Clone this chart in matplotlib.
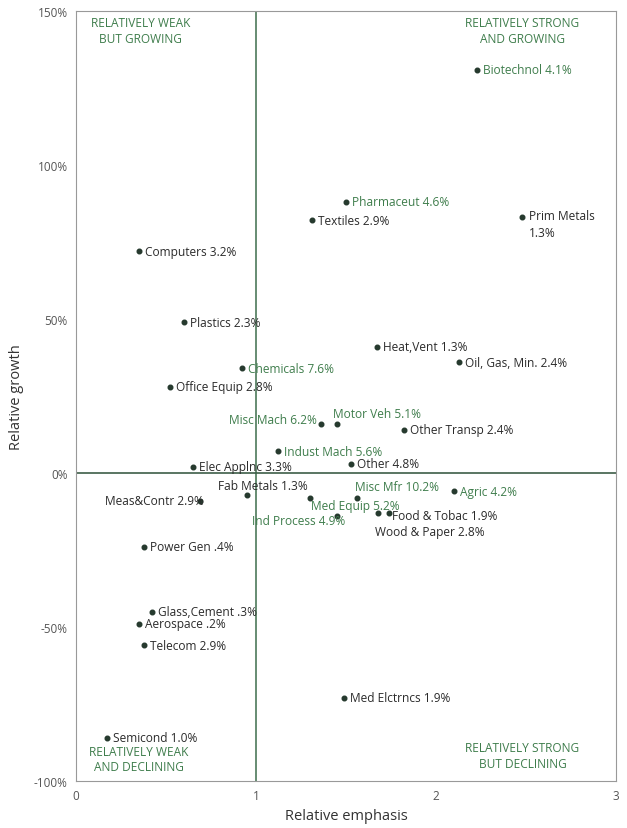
import matplotlib
matplotlib.use('Agg')
import matplotlib.pyplot as plt
from matplotlib.ticker import FuncFormatter

plt.rcParams['font.family'] = ['Open Sans', 'DejaVu Sans']

# industries: relative emphasis (x), relative growth in % (y), label
labels = ['Biotechnol 4.1%', 'Pharmaceut 4.6%', 'Textiles 2.9%', 'Prim Metals\n1.3%',
          'Computers 3.2%', 'Plastics 2.3%', 'Heat,Vent 1.3%', 'Oil, Gas, Min. 2.4%',
          'Chemicals 7.6%', 'Office Equip 2.8%', 'Misc Mach 6.2%', 'Motor Veh 5.1%',
          'Other Transp 2.4%', 'Indust Mach 5.6%', 'Elec Applnc 3.3%', 'Other 4.8%',
          'Fab Metals 1.3%', 'Meas&Contr 2.9%', 'Med Equip 5.2%', 'Misc Mfr 10.2%',
          'Ind Process 4.9%', 'Agric 4.2%', 'Wood & Paper 2.8%', 'Food & Tobac 1.9%',
          'Power Gen .4%', 'Glass,Cement .3%', 'Aerospace .2%', 'Telecom 2.9%',
          'Semicond 1.0%', 'Med Elctrncs 1.9%']
emphasis = [2.23, 1.50, 1.31, 2.48,
            0.35, 0.60, 1.67, 2.13,
            0.92, 0.52, 1.36, 1.45,
            1.82, 1.12, 0.65, 1.53,
            0.95, 0.69, 1.30, 1.56,
            1.45, 2.10, 1.68, 1.74,
            0.38, 0.42, 0.35, 0.38,
            0.17, 1.49]
growth = [131, 88, 82, 83,
          72, 49, 41, 36,
          34, 28, 16, 16,
          14, 7, 2, 3,
          -7, -9, -8, -8,
          -14, -6, -13, -13,
          -24, -45, -49, -56,
          -86, -73]
green_labels = ['Biotechnol 4.1%', 'Pharmaceut 4.6%', 'Chemicals 7.6%', 'Misc Mach 6.2%',
                'Motor Veh 5.1%', 'Indust Mach 5.6%', 'Misc Mfr 10.2%', 'Med Equip 5.2%',
                'Ind Process 4.9%', 'Agric 4.2%']

quadrants = ['RELATIVELY WEAK\nBUT GROWING', 'RELATIVELY STRONG\nAND GROWING',
             'RELATIVELY WEAK\nAND DECLINING', 'RELATIVELY STRONG\nBUT DECLINING']

GREEN = '#3f7d4c'
DARK = '#2b2b2b'

# label placement (pixel offsets from the dot, horizontal alignment)
special = {
    'Prim Metals\n1.3%': (7, 8, 'left', 'top'),
    'Misc Mach 6.2%': (-4, 4, 'right', 'center'),
    'Motor Veh 5.1%': (-4, 10, 'left', 'center'),
    'Fab Metals 1.3%': (-29, 9, 'left', 'center'),
    'Meas&Contr 2.9%': (4, 0, 'right', 'center'),
    'Misc Mfr 10.2%': (-2, 11, 'left', 'center'),
    'Med Equip 5.2%': (1, -8, 'left', 'center'),
    'Ind Process 4.9%': (8, -4, 'right', 'center'),
    'Wood & Paper 2.8%': (-3, -18, 'left', 'center'),
    'Food & Tobac 1.9%': (3, -2, 'left', 'center'),
}

fig = plt.figure(figsize=(6.27, 8.29), dpi=100)
ax = fig.add_axes([0.1212, 0.0567, 0.8613, 0.9288])

ax.axvline(1, color='#3d6e4c', lw=1.1, zorder=1)
ax.axhline(0, color='#3d5e48', lw=1.2, zorder=1)
ax.scatter(emphasis, growth, s=11, color='#263a2e', zorder=3)

for lab, x, y in zip(labels, emphasis, growth):
    dx, dy, ha, va = special.get(lab, (6, 0, 'left', 'center'))
    col = GREEN if lab in green_labels else DARK
    ax.annotate(lab, (x, y), xytext=(dx, dy), textcoords='offset pixels',
                ha=ha, va=va, fontsize=8.6, color=col, zorder=4,
                linespacing=1.4)

qpos = [(0.36, 143.7), (2.48, 143.7), (0.347, -92.9), (2.48, -91.7)]
for q, (qx, qy) in zip(quadrants, qpos):
    ax.text(qx, qy, q, ha='center', va='center', fontsize=8.6, color=GREEN,
            linespacing=1.25)

ax.set_xlim(0, 3)
ax.set_ylim(-100, 150)
ax.set_xticks([0, 1, 2, 3])
ax.set_yticks([-100, -50, 0, 50, 100, 150])
ax.yaxis.set_major_formatter(FuncFormatter(lambda v, p: '%d%%' % v))
ax.tick_params(length=0, labelsize=8.5, labelcolor='#555555', pad=6)
for s in ax.spines.values():
    s.set_color('#999999')
    s.set_linewidth(0.8)

ax.set_xlabel('Relative emphasis', fontsize=10.5, color='#333333', labelpad=4)
ax.set_ylabel('Relative growth', fontsize=10.5, color='#333333', labelpad=7)

fig.savefig('out.png', dpi=100)
